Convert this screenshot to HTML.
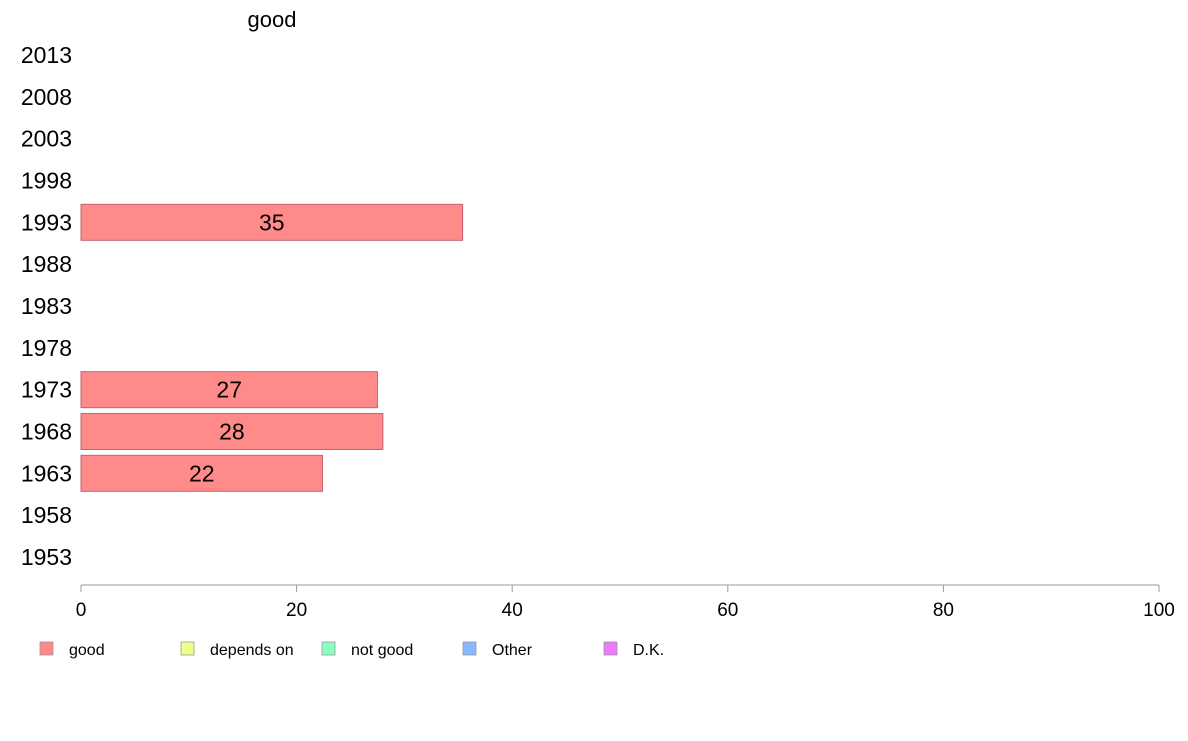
<!DOCTYPE html>
<html><head><meta charset="utf-8"><style>
body{margin:0;background:#fff;font-family:"Liberation Sans",Arial,sans-serif}
svg text{font-family:"Liberation Sans",Arial,sans-serif}
</style></head><body>
<svg id="c" width="1188" height="736">
<text x="272" y="27" font-size="22" text-anchor="middle">good</text>
<g id="yl"></g><g id="bars"></g><g id="xa"></g><g id="lg"></g>
</svg>
<script>
const years=["2013","2008","2003","1998","1993","1988","1983","1978","1973","1968","1963","1958","1953"];
const goodValues=[null,null,null,null,35.4,null,null,null,27.5,28.0,22.4,null,null];
const valueLabels=["","","","","35","","","","27","28","22","",""];
const xTicks=[0,20,40,60,80,100];
const legendNames=["good","depends on","not good","Other","D.K."];
const legendColors=["#ff8a8a","#eeff8a","#8affc0","#8ab8ff","#ee7aff"];
const ns="http://www.w3.org/2000/svg";
function mk(t,a,p){const e=document.createElementNS(ns,t);for(const k in a)e.setAttribute(k,a[k]);p.appendChild(e);return e;}
const x=v=>81+v*(1159-81)/100;
const y=i=>55+i*(557-55)/(years.length-1);
const yl=document.getElementById('yl'),bars=document.getElementById('bars'),xa=document.getElementById('xa'),lg=document.getElementById('lg');
years.forEach((yr,i)=>{
 const t=mk('text',{x:72,y:y(i)+8,'font-size':23,'text-anchor':'end'},yl);t.textContent=yr;
 
 
 const v=goodValues[i];
 if(v!=null){
  const r=mk('rect',{x:x(0),y:y(i)-18,width:x(v)-x(0),height:36,fill:'#ff8a8a',stroke:'#c86070','stroke-width':1},bars);
  
  
  const l=mk('text',{x:(x(0)+x(v))/2,y:y(i)+8,'font-size':23,'text-anchor':'middle'},bars);l.textContent=valueLabels[i];
  
  
 }
});
const ax=mk('line',{x1:x(0),x2:x(100),y1:585,y2:585,stroke:'#999'},xa);


xTicks.forEach(v=>{
 const tk=mk('line',{x1:x(v),x2:x(v),y1:585,y2:592,stroke:'#999'},xa);
 
 
 const t=mk('text',{x:x(v),y:616,'font-size':19,'text-anchor':'middle'},xa);t.textContent=v;
 
 
});
legendNames.forEach((n,i)=>{
 const g=mk('g',{},lg);
 
 
 mk('rect',{x:40+i*141,y:642,width:13,height:13,fill:legendColors[i],stroke:'#999','stroke-width':0.8},g);
 const t=mk('text',{x:69+i*141,y:655,'font-size':16},g);t.textContent=n;
});
</script>
</body></html>
